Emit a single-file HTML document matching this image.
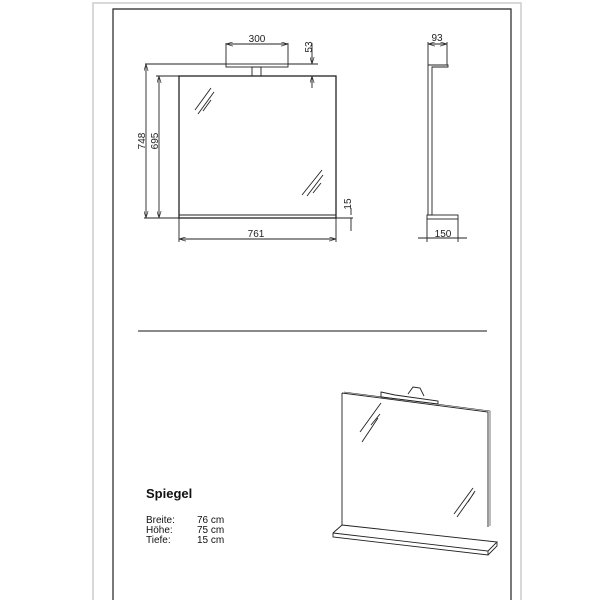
<!DOCTYPE html>
<html><head><meta charset="utf-8"><style>html,body{margin:0;padding:0;background:#fff}svg{display:block}</style></head>
<body>
<svg width="600" height="600" viewBox="0 0 600 600" xmlns="http://www.w3.org/2000/svg" font-family="Liberation Sans, sans-serif">
<defs>
<marker id="a" viewBox="0 0 10 6" refX="10" refY="3" markerWidth="8" markerHeight="5" orient="auto-start-reverse"><path d="M0,0 L10,3 L0,6" fill="none" stroke="#333" stroke-width="1"/></marker>
</defs>
<path d="M93,600 V3 H521 V600" fill="none" stroke="#ccc" stroke-width="1.5"/>
<path d="M113,600 V9 H511 V600" fill="none" stroke="#222" stroke-width="1.2"/>
<g stroke="#222" stroke-width="0.9" fill="none">
<rect x="179" y="76" width="157" height="142" stroke-width="1.3"/>
<line x1="179" y1="215" x2="336" y2="215"/>
<rect x="226" y="64" width="62" height="3"/>
<rect x="252" y="67" width="9" height="9"/>
<path d="M195,110 L211,88 M198,114 L214,92 M203,111 L211,100"/>
<path d="M302,195 L322,170 M307,196 L323,175 M313,193 L321,183"/>
<path d="M226,43 V64 M288,43 V64"/>
<line x1="226" y1="44" x2="288" y2="44" marker-start="url(#a)" marker-end="url(#a)"/>
<path d="M145,64 H226 M288,64 H318 M156,76 H179 M144,218 H179 M336,218 H353"/>
<line x1="146" y1="64" x2="146" y2="218" marker-start="url(#a)" marker-end="url(#a)"/>
<line x1="159" y1="76" x2="159" y2="218" marker-start="url(#a)" marker-end="url(#a)"/>
<path d="M312,43 V64 M312,76 V88"/>
<line x1="312" y1="56" x2="312" y2="64" marker-end="url(#a)"/>
<line x1="312" y1="84" x2="312" y2="76" marker-end="url(#a)"/>
<path d="M351,208 V215 M351,218 V231"/>
<path d="M179,218 V242 M336,218 V242"/>
<line x1="179" y1="239" x2="336" y2="239" marker-start="url(#a)" marker-end="url(#a)"/>
<path d="M428,65 H448 V67 H432 V215 H428 Z"/>
<rect x="427" y="215" width="31" height="4"/>
<path d="M428,42 V65 M447,42 V65"/>
<line x1="428" y1="44" x2="447" y2="44" marker-start="url(#a)" marker-end="url(#a)"/>
<path d="M427,219 V242 M458,219 V242"/>
<line x1="418" y1="238" x2="467" y2="238"/>
<line x1="138" y1="331" x2="487" y2="331" stroke-width="1.3" stroke="#444"/>
<path d="M342,393 L488,412 L488,527 M342,393 V525"/>
<path d="M344,392 L490,411 L490,526" stroke-width="0.6"/>
<path d="M381,392 L395,395 L438,401 L438,404 L381,397 Z"/>
<path d="M408,394 L413,387 L420,388 L424,396"/>
<path d="M342,525 L333,533 L333,537 L488,555 L488,551 L333,533 M342,525 L497,542 L488,551 M497,542 V546 L488,555"/>
<path d="M360,432 L381,403 M371,425 L380,414 M362,442 L378,418"/>
<path d="M454,514 L473,488 M468,502 L475,491 M457,517 L474,493"/>
</g>
<g fill="#222" font-size="10">
<text x="257" y="42" text-anchor="middle">300</text>
<text x="256" y="237" text-anchor="middle">761</text>
<text x="437" y="41" text-anchor="middle">93</text>
<text x="443" y="237" text-anchor="middle">150</text>
<text transform="translate(145,141) rotate(-90)" text-anchor="middle">748</text>
<text transform="translate(158,141) rotate(-90)" text-anchor="middle">695</text>
<text transform="translate(312,47) rotate(-90)" text-anchor="middle">53</text>
<text transform="translate(351,204) rotate(-90)" text-anchor="middle">15</text>
</g>
<g fill="#111">
<text x="146" y="498" font-size="13" font-weight="bold">Spiegel</text>
<g font-size="10">
<text x="146" y="523">Breite:</text><text x="197" y="523">76 cm</text>
<text x="146" y="533">Höhe:</text><text x="197" y="533">75 cm</text>
<text x="146" y="543">Tiefe:</text><text x="197" y="543">15 cm</text>
</g></g>
</svg>
</body></html>
